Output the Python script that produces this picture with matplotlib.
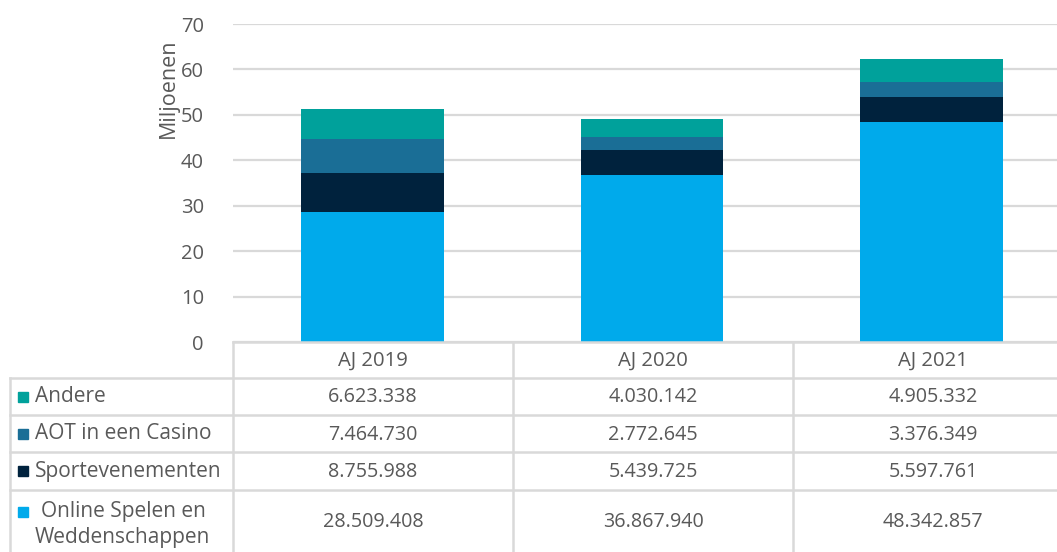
import matplotlib
matplotlib.use("Agg")
import matplotlib.pyplot as plt
from matplotlib.lines import Line2D
from matplotlib.patches import Rectangle

years = ["AJ 2019", "AJ 2020", "AJ 2021"]
online = [28509408, 36867940, 48342857]
sport = [8755988, 5439725, 5597761]
aot = [7464730, 2772645, 3376349]
andere = [6623338, 4030142, 4905332]

labels_top_down = ["Andere", "AOT in een Casino", "Sportevenementen", "Online Spelen en\nWeddenschappen"]
colors = {"Online": "#00AAEB", "Sport": "#00223D", "AOT": "#1A6E96", "Andere": "#00A19B"}

plt.rcParams['font.family'] = ['Open Sans', 'DejaVu Sans']
TXT = "#595959"
GRID = "#D9D9D9"

W, H = 1057, 552
fig = plt.figure(figsize=(W / 100, H / 100), dpi=100)

def fx(x):
    return x / W

def fy(y):
    return 1 - y / H

ax_l, ax_r, ax_t, ax_b = 233, 1071, 24, 342
ax = fig.add_axes([fx(ax_l), fy(ax_b), fx(ax_r) - fx(ax_l), fy(ax_t) - fy(ax_b)])

x = list(range(len(years)))
m = 1e6
on = [v / m for v in online]
sp = [v / m for v in sport]
ao = [v / m for v in aot]
an = [v / m for v in andere]
bw = 0.51
b1 = on
b2 = [a + b for a, b in zip(b1, sp)]
b3 = [a + b for a, b in zip(b2, ao)]
ax.bar(x, on, bw, color=colors["Online"], zorder=3)
ax.bar(x, sp, bw, bottom=b1, color=colors["Sport"], zorder=3)
ax.bar(x, ao, bw, bottom=b2, color=colors["AOT"], zorder=3)
ax.bar(x, an, bw, bottom=b3, color=colors["Andere"], zorder=3)

ax.set_xlim(-0.5, 2.5)
ax.set_ylim(0, 70)
ax.set_yticks(range(0, 71, 10))
ax.yaxis.grid(True, color=GRID, linewidth=1.6, zorder=0)
ax.set_xticks([])
for s in ax.spines.values():
    s.set_visible(False)
ax.tick_params(axis='y', length=0, pad=21, labelsize=14.5, labelcolor=TXT)
fig.text(fx(168), fy(88), "Miljoenen", rotation=90, ha="center", va="center",
         fontsize=15.5, color=TXT)

# data table
col_x = [233, 513, 793, 1073]
row_y = [342, 378, 415, 452, 490, 552]
left_x = 10
lw = 1.8

def hline(y, x0, x1):
    fig.add_artist(Line2D([fx(x0), fx(x1)], [fy(y), fy(y)], color=GRID, lw=lw))

def vline(x0, y0, y1):
    fig.add_artist(Line2D([fx(x0), fx(x0)], [fy(y0), fy(y1)], color=GRID, lw=lw))

hline(row_y[0], col_x[0], col_x[-1])
for y in row_y[1:5]:
    hline(y, left_x, col_x[-1])
for cx in col_x:
    vline(cx, row_y[0], row_y[-1])
vline(left_x, row_y[1], row_y[-1])

def fmt(v):
    return f"{v:,}".replace(",", ".")

fs_lab = 15
fs_val = 14.2
for i, yr in enumerate(years):
    cx = (col_x[i] + col_x[i + 1]) / 2
    fig.text(fx(cx), fy((row_y[0] + row_y[1]) / 2 + 1), yr, ha="center", va="center",
             fontsize=fs_val + 0.4, color=TXT)

series_rows = [andere, aot, sport, online]
row_cols = [colors["Andere"], colors["AOT"], colors["Sport"], colors["Online"]]
for r, (vals, lab, c) in enumerate(zip(series_rows, labels_top_down, row_cols)):
    y0, y1 = row_y[r + 1], row_y[r + 2]
    yc = (y0 + y1) / 2
    for i, v in enumerate(vals):
        cx = (col_x[i] + col_x[i + 1]) / 2
        fig.text(fx(cx), fy(yc + 1), fmt(v), ha="center", va="center", fontsize=fs_val, color=TXT)
    if "\n" in lab:
        l1, l2 = lab.split("\n")
        sq_y = y0 + 22
        fig.text(fx(41), fy(y0 + 22), l1, ha="left", va="center", fontsize=fs_lab, color=TXT)
        fig.text(fx(35), fy(y0 + 48), l2, ha="left", va="center", fontsize=fs_lab, color=TXT)
    else:
        sq_y = yc
        fig.text(fx(35), fy(yc), lab, ha="left", va="center", fontsize=fs_lab, color=TXT)
    fig.add_artist(Rectangle((fx(18), fy(sq_y + 5)), fx(10), 10 / H, color=c,
                             transform=fig.transFigure))

fig.savefig("out.png", dpi=100)
